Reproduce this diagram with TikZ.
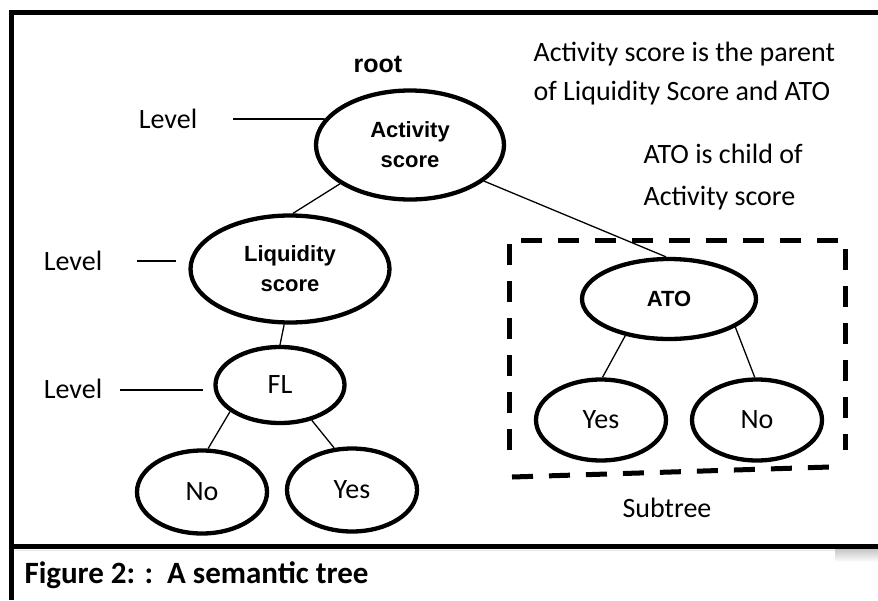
\documentclass[tikz,border=0pt]{standalone}
\usepackage{fontspec}
\setmainfont{Carlito}
\newfontfamily\arialfont{Liberation Sans}
\usetikzlibrary{shapes.geometric, positioning, calc}
\tikzstyle{leaf}   = [ellipse, draw, line width=4.3pt, inner sep=0pt,
                      minimum width=130pt, minimum height=83pt,
                      font=\fontsize{28}{34}\selectfont]
\tikzstyle{branch} = [line width=1.3pt]

\begin{document}
\begin{tikzpicture}[x=1pt, y=-1pt,
  keynode/.style={ellipse, draw, line width=4.3pt, inner sep=0pt, align=center, font=\arialfont\bfseries\fontsize{22}{30}\selectfont},
  remark/.style={anchor=base west, font=\fontsize{28}{34}\selectfont},
  levelline/.style={line width=1.8pt},
  subtree/.style={line width=5pt, dash pattern=on 21pt off 16pt}
]
  \useasboundingbox (0,0) rectangle (878,600);

  % Frame and caption
  \draw[line width=5pt, line join=miter] (11,600) -- (11,12) -- (878,12);
  \draw[line width=5pt] (11,546) -- (878,546);
  \shade[top color=gray!45, bottom color=white] (835,549) rectangle (878,562);
  \draw[gray!20, line width=1pt] (15,550) -- (835,550);
  \node[anchor=base west, font=\bfseries\fontsize{31}{36}\selectfont] (caption) at (21,583) {Figure 2: :\ \ A semantic tree};

  % Tree
  \node[keynode, minimum width=188pt, minimum height=109pt] (act) at (410,145) {Activity\\score};
  \node[keynode, minimum width=199pt, minimum height=107pt] (liq) at (290,269) {Liquidity\\score};
  \node[leaf, minimum width=129pt, minimum height=76pt] (fl) at (280,385) {FL};
  \node[leaf] (flNo) at (202,492) {No};
  \node[leaf] (flYes) at (352,490) {Yes};
  \node[keynode, minimum width=174pt, minimum height=80pt] (ato) at (669,299) {ATO};
  \node[leaf, minimum height=81pt] (atoYes) at (601,420) {Yes};
  \node[leaf, minimum height=81pt] (atoNo) at (757,420) {No};

  \draw[branch] (act.209) -- (liq.87);
  \draw[branch] (act.334) -- (ato.94);
  \draw[branch] (liq.264) -- (fl.90);
  \draw[branch] (fl.208) -- (flNo.82);
  \draw[branch] (fl.312) -- (flYes.113);
  \draw[branch] (ato.220) -- (atoYes.88);
  \draw[branch] (ato.337) -- (atoNo.93);

  % Labels
  \node[font=\arialfont\bfseries\fontsize{25}{30}\selectfont, anchor=base] (root) at (378,72) {root};
  \node[remark, anchor=base] (lv1) at (168,128) {Level};
  \node[remark, anchor=base] (lv2) at (73,270) {Level};
  \node[remark, anchor=base] (lv3) at (73,398) {Level};
  \coordinate (lv1a) at (233,119);
  \coordinate (lv2a) at (137,261);
  \coordinate (lv2b) at (176,261);
  \coordinate (lv3a) at (120,390);
  \coordinate (lv3b) at (203,390);
  \draw[levelline] (lv1a) -- (act.163);
  \draw[levelline] (lv2a) -- (lv2b);
  \draw[levelline] (lv3a) -- (lv3b);

  \node[remark] (parent1) at (530,61) {Activity score is the parent};
  \node[remark] (parent2) at (530,100) {of Liquidity Score and ATO};
  \node[remark] (child1) at (640,163) {ATO is child of};
  \node[remark] (child2) at (640,205) {Activity score};

  % Subtree box
  \draw[subtree] (509,450) -- (509,240) -- (845,240) -- (845,450);
  \draw[subtree] (512,477) -- (830,467);
  \node[remark, anchor=base] (sub) at (667,517) {Subtree};
\end{tikzpicture}
\end{document}
